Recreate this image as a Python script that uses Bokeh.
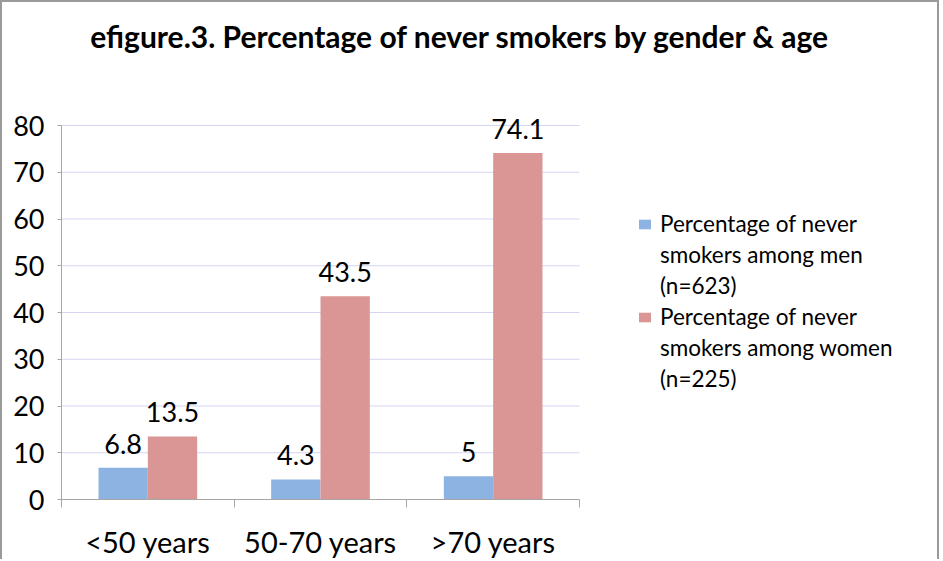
from bokeh.plotting import figure
from bokeh.models import (Range1d, LinearAxis, FixedTicker, ColumnDataSource, Legend,
                          LegendItem, Label)
from bokeh.core.properties import value
from bokeh.embed import file_html
from bokeh.resources import INLINE

# --- data -------------------------------------------------------------
age_groups = ["<50 years", "50-70 years", ">70 years"]
men_pct = [6.8, 4.3, 5.0]
women_pct = [13.5, 43.5, 74.1]
y_ticks = [0, 10, 20, 30, 40, 50, 60, 70, 80]
men_legend = ["Percentage of never", "smokers among men", "(n=623)"]
women_legend = ["Percentage of never", "smokers among women", "(n=225)"]
chart_title = "efigure.3. Percentage of never smokers by gender & age"

# --- layout (pixels) --------------------------------------------------
CANVAS_W, CANVAS_H = 939, 559
LEFT, BOTTOM = 59, 62                    # room for the axes
FRAME_W, FRAME_H = CANVAS_W - LEFT, CANVAS_H - BOTTOM
PLOT_W, PLOT_H = 518, 374                # the bar area inside the frame

# --- styling ----------------------------------------------------------
FONT = "Lato"
MEN_COLOR = "#8DB3E2"
WOMEN_COLOR = "#D99694"
AXIS_COLOR = "#A6A6A6"
GRID_COLOR = "#D4D4F2"
FRAME_COLOR = "#9A9A9A"
BAR_W = 1 / 3.5

n = len(age_groups)
y_max = y_ticks[-1]
centers = [i + 0.5 for i in range(n)]
src = ColumnDataSource(dict(
    age=age_groups,
    men_x=[c - BAR_W / 2 for c in centers],
    women_x=[c + BAR_W / 2 for c in centers],
    men=men_pct,
    women=women_pct,
    men_txt=[f"{v:g}" for v in men_pct],
    women_txt=[f"{v:g}" for v in women_pct],
))

# the frame also hosts the title and legend, so the ranges run past the bar area
p = figure(width=CANVAS_W, height=CANVAS_H,
           x_range=Range1d(0, n * FRAME_W / PLOT_W),
           y_range=Range1d(0, y_max * FRAME_H / PLOT_H),
           min_border_left=LEFT, min_border_right=0,
           min_border_top=0, min_border_bottom=BOTTOM,
           x_axis_location=None,
           output_backend="svg", toolbar_location=None, tools="")
p.outline_line_color = None
p.background_fill_color = "white"
p.border_fill_color = "white"
p.styles = {"border-left": f"2px solid {FRAME_COLOR}",
            "border-top": f"2px solid {FRAME_COLOR}",
            "border-right": f"2px solid {FRAME_COLOR}"}
p.xgrid.visible = False
p.ygrid.visible = False

# horizontal grid lines across the bar area only
p.segment(x0=0, x1=n, y0=y_ticks, y1=y_ticks, line_color=GRID_COLOR, line_width=1)

# y axis
yax = p.yaxis[0]
yax.ticker = FixedTicker(ticks=y_ticks)
yax.bounds = (0, y_max)
yax.axis_line_color = AXIS_COLOR
yax.major_tick_line_color = AXIS_COLOR
yax.major_tick_out = 4
yax.major_tick_in = 0
yax.minor_tick_line_color = None
yax.major_label_standoff = 13
yax.major_label_text_font = FONT
yax.major_label_text_font_size = "27px"
yax.major_label_text_color = "black"

# category boundary ticks
tick_axis = LinearAxis(ticker=FixedTicker(ticks=list(range(n + 1))), bounds=(0, n),
                       major_label_overrides={t: "" for t in range(n + 1)},
                       axis_line_color=AXIS_COLOR, major_tick_line_color=AXIS_COLOR,
                       major_tick_out=8, major_tick_in=0, minor_tick_line_color=None,
                       major_label_standoff=0)
p.add_layout(tick_axis, "below")

# category names under each slot
cat_axis = LinearAxis(ticker=FixedTicker(ticks=centers), bounds=(0, n),
                      major_label_overrides={c: g for c, g in zip(centers, age_groups)},
                      axis_line_color=None, major_tick_line_color=None,
                      minor_tick_line_color=None,
                      major_label_text_font=FONT, major_label_text_font_size="29px",
                      major_label_text_color="black", major_label_standoff=10)
p.add_layout(cat_axis, "below")

# bars
men_r = p.vbar(x="men_x", top="men", width=BAR_W, source=src,
               fill_color=MEN_COLOR, line_color=None)
women_r = p.vbar(x="women_x", top="women", width=BAR_W, source=src,
                 fill_color=WOMEN_COLOR, line_color=None)
# an empty, unpainted renderer for the legend's continuation lines
blank_r = p.vbar(x=[], top=[], width=BAR_W, fill_color=None, line_color=None)

# value labels
for col in ("men", "women"):
    p.text(x=f"{col}_x", y=col, text=f"{col}_txt", source=src,
           text_align="center", text_baseline="alphabetic", y_offset=-24,
           text_font=value(FONT), text_font_size="27px", text_color="black")

# title
p.add_layout(Label(x=399, y=FRAME_H - 33, x_units="screen", y_units="screen",
                   text=chart_title, text_align="center", text_baseline="middle",
                   text_font=FONT, text_font_style="bold", text_font_size="30px",
                   text_color="black"))

# legend: first line of each entry carries the swatch
items = []
for lines, r in ((men_legend, men_r), (women_legend, women_r)):
    items.append(LegendItem(label=lines[0], renderers=[r]))
    for line in lines[1:]:
        items.append(LegendItem(label=line, renderers=[blank_r]))

legend = Legend(items=items, location=(576, 105),
                label_text_font=FONT, label_text_font_size="22.5px",
                label_text_color="black", label_height=31, label_standoff=8,
                glyph_width=15, glyph_height=12, spacing=0, padding=0, margin=0,
                border_line_color=None, background_fill_alpha=0)
p.add_layout(legend, "center")

open("out.html", "w").write(file_html(p, INLINE))
